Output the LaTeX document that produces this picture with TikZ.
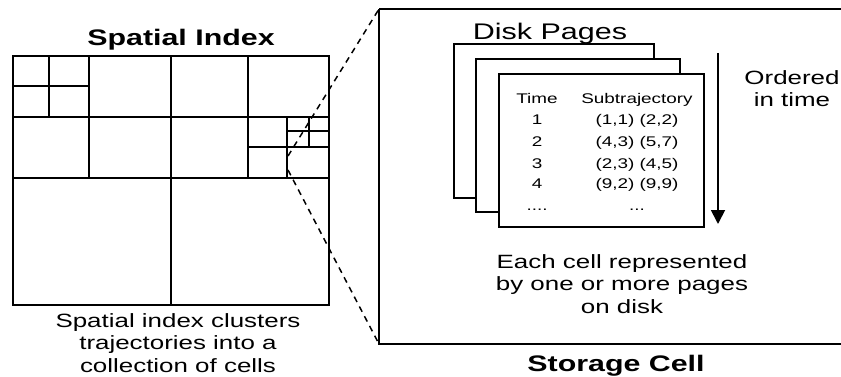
\documentclass[tikz,border=0pt]{standalone}
\usepackage{fontspec}
\setmainfont[FakeStretch=1.35]{Liberation Sans}
\usetikzlibrary{arrows.meta}
\begin{document}
\begin{tikzpicture}[x=1pt,y=-1pt,
  gridline/.style={line width=1.8pt,black},
  page/.style={draw,line width=1.8pt,fill=white,inner sep=0pt,anchor=north west},
  caption/.style={font=\fontsize{19.2}{22.5}\selectfont,align=center,inner sep=0pt,anchor=base},
  heading/.style={font=\bfseries\fontsize{22.5}{26}\selectfont,inner sep=0pt,anchor=base},
  cell/.style={font=\fontsize{14}{16}\selectfont,inner sep=0pt,anchor=base},
  zoomline/.style={line width=1.5pt,dash pattern=on 6pt off 5pt}]
\useasboundingbox (0,0) rectangle (841,377);
\clip (0,0) rectangle (841,377);

% ---- spatial index (quadtree grid) ----
\node[heading] (sititle) at (181,46) {Spatial Index};
\draw[gridline] (13,56) rectangle (329,305);
\draw[gridline] (171,56) -- (171,305);
\draw[gridline] (13,178) -- (329,178);
\draw[gridline] (13,117) -- (329,117);
\draw[gridline] (89,56) -- (89,178);
\draw[gridline] (248,56) -- (248,178);
\draw[gridline] (49,56) -- (49,117);
\draw[gridline] (13,86) -- (89,86);
\draw[gridline] (287,117) -- (287,178);
\draw[gridline] (248,147) -- (329,147);
\draw[gridline] (309,117) -- (309,147);
\draw[gridline] (287,131) -- (329,131);
% multi-line captions are placed by the baseline of their last line
\node[caption] (sicap) at (178,372) {Spatial index clusters\\trajectories into a\\collection of cells};

% ---- storage cell ----
\draw[line width=1.8pt] (379,9) -- (860,9) (379,9) -- (379,344) -- (860,344);
\coordinate (sctl) at (379,9);
\coordinate (scbl) at (379,344);
\coordinate (cellhi) at (288,156);
\coordinate (celllo) at (288,170);
\draw[zoomline] (cellhi) -- (sctl);
\draw[zoomline] (celllo) -- (scbl);
\node[heading] (sctitle) at (616,371) {Storage Cell};

% disk pages, back to front
\node[font=\fontsize{22.6}{26}\selectfont,inner sep=0pt,anchor=base] (dptitle) at (550,40) {Disk Pages};
\node[page,minimum width=200pt,minimum height=154pt] (pg3) at (453,43) {};
\node[page,minimum width=204pt,minimum height=153pt] (pg2) at (475,58) {};
\node[page,minimum width=205pt,minimum height=153pt] (pg1) at (498,73) {};

% table on the front page
\node[cell] (th1) at (537,104) {Time};
\node[cell] (th2) at (637,104) {Subtrajectory};
\node[cell] (r1a) at (537,125) {1};
\node[cell] (r1b) at (637,125) {(1,1) (2,2)};
\node[cell] (r2a) at (537,147) {2};
\node[cell] (r2b) at (637,147) {(4,3) (5,7)};
\node[cell] (r3a) at (537,168) {3};
\node[cell] (r3b) at (637,168) {(2,3) (4,5)};
\node[cell] (r4a) at (537,189) {4};
\node[cell] (r4b) at (637,189) {(9,2) (9,9)};
\node[cell] (r5a) at (537,210) {....};
\node[cell] (r5b) at (637,210) {...};

% time order arrow
\coordinate (arrtop) at (718,53);
\coordinate (arrbot) at (718,224);
\draw[line width=1.8pt,-{Triangle[width=14pt,length=14pt]}] (arrtop) -- (arrbot);
\node[caption] (ordcap) at (792,107) {Ordered\\in time};

\node[caption] (pgcap) at (622,313) {Each cell represented\\by one or more pages\\on disk};
\end{tikzpicture}
\end{document}
